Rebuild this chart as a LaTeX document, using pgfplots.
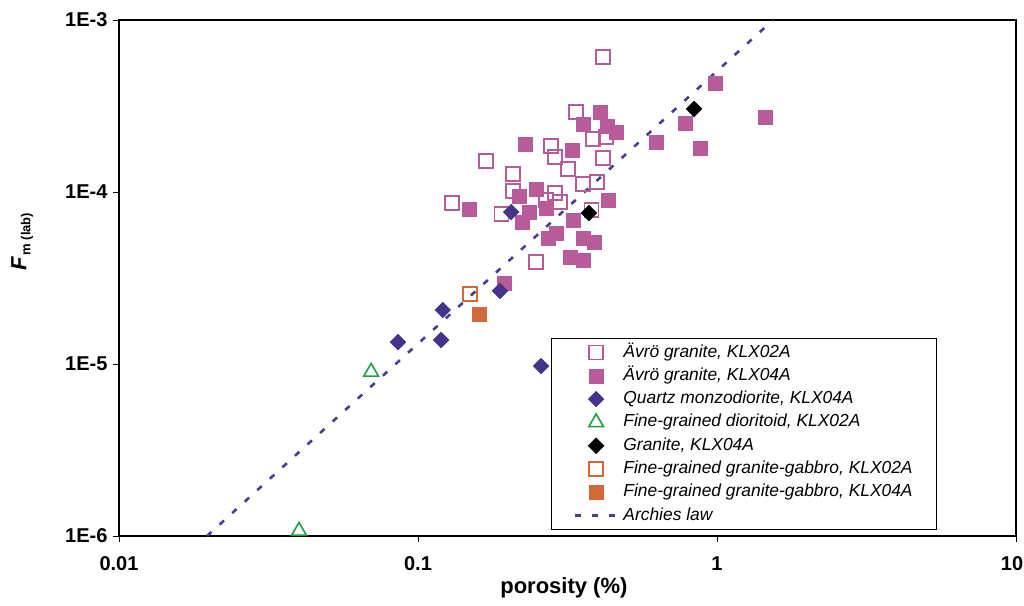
\documentclass[border=0pt]{standalone}
\usepackage{fontspec}
\setmainfont{Liberation Sans}
\usepackage{pgfplots}
\pgfplotsset{compat=1.18}

\definecolor{avro}{RGB}{184,92,153}
\definecolor{qmd}{RGB}{70,52,138}
\definecolor{archie}{RGB}{72,62,148}
\definecolor{dior}{RGB}{32,158,70}
\definecolor{gab}{RGB}{208,106,56}

\begin{document}
\begin{tikzpicture}
\begin{axis}[
  xmode=log, ymode=log,
  scale only axis, width=897pt, height=516pt,
  xmin=0.01, xmax=10, ymin=1e-6, ymax=1e-3,
  xtick={0.01,0.1,1,10}, xticklabels={0.01,0.1,1,\hspace*{-8pt}10},
  ytick={1e-6,1e-5,1e-4,1e-3}, yticklabels={1E-6,1E-5,1E-4,1E-3},
  xminorticks=false, yminorticks=false,
  tick align=outside, tick pos=left,
  major tick length=6pt,
  tick style={black, line width=0.9pt},
  axis line style={black, line width=1.3pt},
  ticklabel style={font=\bfseries\fontsize{20}{24}\selectfont},
  xticklabel style={yshift=-11pt},
  yticklabel style={xshift=-2pt},
  xlabel={\bfseries porosity (\%)},
  xlabel style={font=\fontsize{22}{26}\selectfont, at={(axis description cs:0.496,-0.1)}, anchor=center},
  ylabel={{\bfseries\itshape F}{\bfseries\fontsize{13}{15}\selectfont\raisebox{-4pt}{\,m (lab)}}},
  ylabel style={font=\fontsize{22}{26}\selectfont, at={(axis description cs:-0.108,0.57)}, anchor=center},
  legend image code/.code={\draw[mark repeat=2,mark phase=2,#1] plot coordinates {(0pt,0pt)(21pt,0pt)(42pt,0pt)};},
  legend cell align=left,
  legend style={draw=black, line width=0.8pt, fill=white,
    at={(rel axis cs:0.912,0.0116)}, anchor=south east,
    font=\itshape\fontsize{17.4}{20}\selectfont,
    inner xsep=22pt, inner ysep=3.5pt, row sep=2.3pt, column sep=3pt,
    nodes={inner sep=2pt, text height=13pt, text depth=4pt},
  },
]
% Avro granite, KLX02A
\addplot[only marks, mark=square, mark size=7pt, mark options={draw=avro, line width=1.6pt}] coordinates {
  (0.416,6.09e-4) (0.337,2.92e-4) (0.385,2.03e-4) (0.426,2.09e-4) (0.416,1.58e-4)
  (0.279,1.85e-4) (0.287,1.60e-4) (0.169,1.51e-4) (0.318,1.36e-4) (0.208,1.27e-4)
  (0.208,1.01e-4) (0.356,1.11e-4) (0.397,1.14e-4) (0.130,8.63e-5) (0.190,7.45e-5)
  (0.287,9.87e-5) (0.299,8.75e-5) (0.380,7.86e-5) (0.248,3.92e-5) (0.268,8.98e-5)
};
\addlegendentry{Ävrö granite, KLX02A}
% Avro granite, KLX04A
\addplot[only marks, mark=square*, mark size=7pt, mark options={draw=avro, fill=avro, line width=0.6pt}] coordinates {
  (0.407,2.92e-4) (0.356,2.48e-4) (0.430,2.42e-4) (0.459,2.23e-4) (0.228,1.90e-4)
  (0.327,1.75e-4) (0.248,1.04e-4) (0.219,9.48e-5) (0.432,8.98e-5) (0.149,7.96e-5)
  (0.235,7.65e-5) (0.268,8.07e-5) (0.223,6.69e-5) (0.330,6.87e-5) (0.290,5.78e-5)
  (0.272,5.40e-5) (0.356,5.40e-5) (0.388,5.12e-5) (0.322,4.19e-5) (0.356,4.03e-5)
  (0.195,2.96e-5) (0.984,4.30e-4) (0.782,2.52e-4) (0.629,1.95e-4) (0.877,1.80e-4)
  (1.448,2.73e-4)
};
\addlegendentry{Ävrö granite, KLX04A}
% Quartz monzodiorite, KLX04A
\addplot[only marks, mark=square*, mark size=5.6pt, mark options={rotate=45, draw=qmd, fill=qmd, line width=0.4pt}] coordinates {
  (0.205,7.65e-5) (0.188,2.66e-5) (0.121,2.06e-5) (0.0857,1.34e-5) (0.1195,1.38e-5)
  (0.258,9.73e-6)
};
\addlegendentry{Quartz monzodiorite, KLX04A}
% Fine-grained dioritoid, KLX02A
\addplot[only marks, mark=triangle, mark size=8.5pt, mark options={draw=dior, line width=1.6pt}] coordinates {
  (0.0697,9.0e-6) (0.040,1.07e-6)
};
\addlegendentry{Fine-grained dioritoid, KLX02A}
% Granite, KLX04A
\addplot[only marks, mark=square*, mark size=5.6pt, mark options={rotate=45, draw=black, fill=black, line width=0.4pt}] coordinates {
  (0.373,7.55e-5) (0.838,3.04e-4)
};
\addlegendentry{Granite, KLX04A}
% Fine-grained granite-gabbro, KLX02A
\addplot[only marks, mark=square, mark size=7pt, mark options={draw=gab, line width=1.6pt}] coordinates {
  (0.149,2.55e-5)
};
\addlegendentry{Fine-grained granite-gabbro, KLX02A}
% Fine-grained granite-gabbro, KLX04A
\addplot[only marks, mark=square*, mark size=7pt, mark options={draw=gab, fill=gab, line width=0.6pt}] coordinates {
  (0.160,1.95e-5)
};
\addlegendentry{Fine-grained granite-gabbro, KLX04A}
% Archie's law
\addplot[archie, line width=2.6pt, dash pattern=on 6pt off 11pt, no marks] coordinates {
  (0.0197,1e-6) (1.54,1e-3)
};
\addlegendentry{Archies law}
\end{axis}
\pgfresetboundingbox
\useasboundingbox (-119pt,-69pt) rectangle (905pt,536pt);
\end{tikzpicture}
\end{document}
